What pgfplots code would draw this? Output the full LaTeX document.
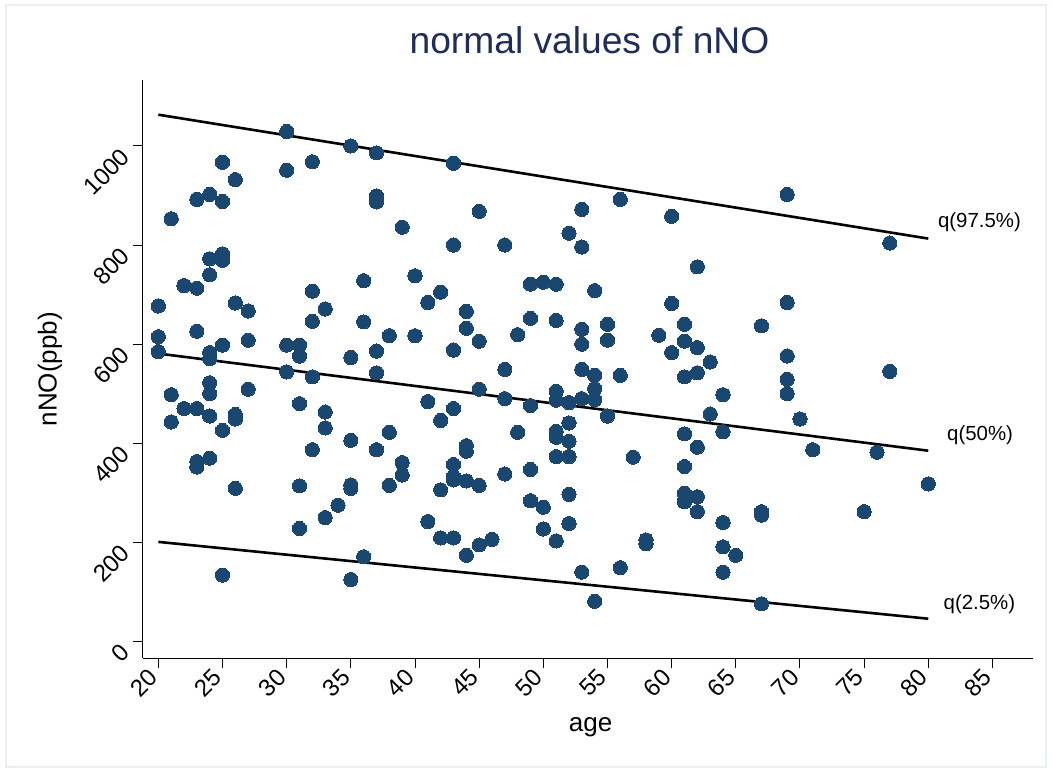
\documentclass[border=0pt]{standalone}
\usepackage{fontspec}
\setmainfont{Liberation Sans}
\usepackage{pgfplots}
\pgfplotsset{compat=1.18}
\definecolor{stnavy}{RGB}{26,71,111}
\definecolor{titlecol}{RGB}{30,45,90}
\definecolor{framecol}{RGB}{232,240,243}

\begin{document}
\begin{tikzpicture}
\useasboundingbox (-71.35pt,-56.85pt) rectangle (454.65pt,329.15pt);
\draw[framecol, line width=0.8pt] (-68.35pt,-54.35pt) rectangle (451.65pt,326.65pt);
\begin{axis}[
  at={(0pt,0pt)}, anchor=south west,
  scale only axis, width=445.15pt, height=289.15pt,
  xmin=18.78, xmax=88.16, ymin=-33.9, ymax=1133,
  axis x line*=bottom, axis y line*=left,
  axis line style={-, black, line width=0.6pt},
  tick align=outside, major tick length=5pt,
  tick style={black, line width=0.5pt},
  xtick={20,25,...,85}, ytick={0,200,...,1000},
  /pgf/number format/assume math mode=true,
  /pgf/number format/1000 sep={},
  ticklabel style={font=\fontsize{12}{14}\selectfont},
  xticklabel style={rotate=45, anchor=east},
  yticklabel style={rotate=45, anchor=east, xshift=-1.5pt},
  xlabel={age}, ylabel={nNO(ppb)},
  xlabel style={at={(axis description cs:0.503,-0.1257)}, anchor=base, font=\fontsize{13}{15}\selectfont},
  ylabel style={at={(axis description cs:-0.0968,0.5)}, anchor=base, font=\fontsize{13}{15}\selectfont},
  title={normal values of nNO},
  title style={at={(axis description cs:0.5018,1.0259)}, anchor=base, font=\fontsize{18.6}{20}\selectfont, text=titlecol},
  clip=false,
]
\addplot[black, line width=1.3pt] coordinates {(20,1063) (80,813)};
\addplot[black, line width=1.3pt] coordinates {(20,581) (80,385)};
\addplot[black, line width=1.3pt] coordinates {(20,201) (80,46)};
\addplot[only marks, mark=*, mark size=3.55pt, color=stnavy, mark options={fill=stnavy, draw=stnavy, line width=0pt}] table {
x y
20 677
20 615
20 585
21 853
21 498
21 443
22 718
22 470
23 892
23 713
23 626
23 470
23 363
23 352
24 902
24 772
24 740
24 583
24 571
24 522
24 500
24 455
24 370
25 967
25 888
25 782
25 769
25 598
25 426
25 134
26 932
26 683
26 458
26 449
26 309
27 667
27 608
27 509
30 1029
30 951
30 598
30 544
31 598
31 576
31 480
31 314
31 228
32 968
32 707
32 646
32 534
32 387
33 671
33 463
33 431
33 250
34 275
35 1000
35 573
35 406
35 316
35 309
35 125
36 728
36 645
36 171
37 986
37 899
37 887
37 586
37 542
37 387
38 617
38 422
38 315
39 836
39 361
39 336
40 738
40 617
41 684
41 484
41 242
42 705
42 446
42 306
42 209
43 965
43 800
43 588
43 470
43 357
43 333
43 326
43 209
44 666
44 632
44 395
44 384
44 324
44 174
45 868
45 606
45 509
45 315
45 195
46 206
47 800
47 549
47 490
47 338
48 619
48 422
49 721
49 652
49 476
49 347
49 284
50 725
50 271
50 227
51 721
51 648
51 505
51 487
51 424
51 412
51 373
51 203
52 824
52 482
52 441
52 404
52 373
52 297
52 238
53 872
53 796
53 630
53 600
53 549
53 490
53 140
54 708
54 537
54 510
54 488
54 81
55 640
55 608
55 455
56 892
56 537
56 149
57 372
58 197
58 205
59 618
60 858
60 682
60 583
61 640
61 606
61 534
61 419
61 353
61 299
61 282
62 756
62 593
62 542
62 392
62 292
62 262
63 564
63 459
64 498
64 423
64 240
64 191
64 140
65 174
67 637
67 262
67 255
67 76
69 902
69 684
69 576
69 529
69 500
70 449
71 387
75 262
76 382
77 804
77 545
80 318
};
\node[anchor=base west, inner sep=0pt, font=\fontsize{10.2}{12}\selectfont] at (axis cs:80.73,835.4) {q(97.5\%)};
\node[anchor=base west, inner sep=0pt, font=\fontsize{10.2}{12}\selectfont] at (axis cs:81.44,404.7) {q(50\%)};
\node[anchor=base west, inner sep=0pt, font=\fontsize{10.2}{12}\selectfont] at (axis cs:81.17,64.8) {q(2.5\%)};
\end{axis}
\end{tikzpicture}
\end{document}
